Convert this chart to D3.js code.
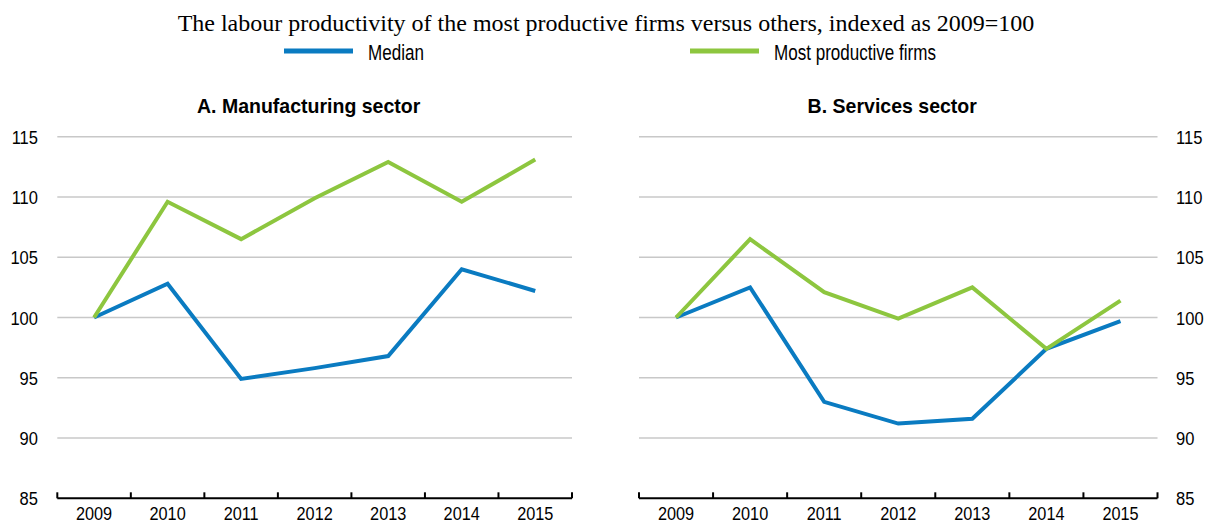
<!DOCTYPE html>
<html>
<head>
<meta charset="utf-8">
<script src="https://cdn.jsdelivr.net/npm/d3@7"></script>
<style>
  body { margin: 0; background: #fff; }
  svg text { font-family: "Liberation Sans", Arial, sans-serif; fill: #000; }
  .main-title { font-family: "Liberation Serif", "Times New Roman", serif; }
</style>
</head>
<body>
<svg id="chart"></svg>
<script>
var years = ['2009', '2010', '2011', '2012', '2013', '2014', '2015'];
var yTicks = [85, 90, 95, 100, 105, 110, 115];

var manufMedian = [100, 102.8, 94.9, 95.8, 96.8, 104.0, 102.2];
var manufTop = [100, 109.6, 106.5, 109.9, 112.9, 109.6, 113.1];
var servMedian = [100, 102.5, 93.0, 91.2, 91.6, 97.4, 99.7];
var servTop = [100, 106.5, 102.1, 99.9, 102.5, 97.4, 101.4];

var seriesNames = ['Median', 'Most productive firms'];
var seriesColors = ['#0a7bc1', '#8dc63f'];

var width = 1207, height = 525;
var svg = d3.select('#chart').attr('width', width).attr('height', height);

// narrow-looking text: the original uses Arial Narrow, squeeze Liberation Sans
function narrowText(parent, x, y, str, size, sx, anchor, bold) {
    var t = parent.append('text')
        .attr('transform', 'translate(' + x + ',' + y + ') scale(' + sx + ',1)')
        .attr('text-anchor', anchor || 'start')
        .style('font-size', size + 'px')
        .text(str);
    if (bold) t.style('font-weight', 'bold');
    return t;
}

// title
svg.append('text')
    .attr('class', 'main-title')
    .attr('x', 606)
    .attr('y', 31)
    .attr('text-anchor', 'middle')
    .style('font-size', '24px')
    .text('The labour productivity of the most productive firms versus others, indexed as 2009=100');

// legend
var legendX = [284, 690];
seriesNames.forEach(function(name, i) {
    var g = svg.append('g').attr('transform', 'translate(' + legendX[i] + ',51)');
    g.append('line')
        .attr('x1', 0).attr('x2', 69)
        .attr('stroke', seriesColors[i])
        .attr('stroke-width', 5);
    narrowText(g, 84, 9, name, 22, 0.775);
});

var y = d3.scaleLinear().domain([85, 115]).range([498.3, 136.7]);

function drawPanel(opts) {
    var x = d3.scaleBand().domain(years).range([opts.left, opts.right]);
    var g = svg.append('g');

    narrowText(g, (opts.left + opts.right) / 2 - 6, 113, opts.title, 21, 0.93, 'middle', true);

    // gridlines
    g.selectAll('.grid')
        .data(yTicks.slice(1))
        .enter()
        .append('line')
        .attr('x1', opts.left).attr('x2', opts.right)
        .attr('y1', function(d) { return y(d); })
        .attr('y2', function(d) { return y(d); })
        .attr('stroke', '#c8c8c8')
        .attr('stroke-width', 1.5);

    // y labels
    yTicks.forEach(function(d) {
        narrowText(g, opts.yLabelX, y(d) + 7, d, 19, 0.87, opts.yAnchor);
    });

    // x labels
    years.forEach(function(d) {
        narrowText(g, x(d) + x.bandwidth() / 2, 520, d, 18.5, 0.88, 'middle');
    });

    // x axis line and ticks between categories
    g.append('line')
        .attr('x1', opts.left).attr('x2', opts.right)
        .attr('y1', y(85)).attr('y2', y(85))
        .attr('stroke', '#000').attr('stroke-width', 2);
    var bounds = years.map(function(d) { return x(d); }).concat([opts.right]);
    g.selectAll('.tick-mark')
        .data(bounds)
        .enter()
        .append('line')
        .attr('x1', function(d) { return d; })
        .attr('x2', function(d) { return d; })
        .attr('y1', y(85) - 6)
        .attr('y2', y(85))
        .attr('stroke', '#000')
        .attr('stroke-width', 2);

    var line = d3.line()
        .x(function(d, i) { return x(years[i]) + x.bandwidth() / 2; })
        .y(function(d) { return y(d); });

    opts.series.forEach(function(s, i) {
        g.append('path')
            .datum(s)
            .attr('d', line)
            .attr('fill', 'none')
            .attr('stroke', seriesColors[i])
            .attr('stroke-width', 4);
    });
}

drawPanel({
    title: 'A. Manufacturing sector',
    left: 57.3, right: 572,
    yLabelX: 38, yAnchor: 'end',
    series: [manufMedian, manufTop]
});
drawPanel({
    title: 'B. Services sector',
    left: 639, right: 1157.5,
    yLabelX: 1176, yAnchor: 'start',
    series: [servMedian, servTop]
});
</script>
</body>
</html>
